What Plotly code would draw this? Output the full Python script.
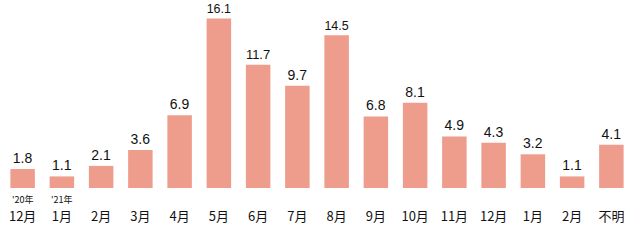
import plotly.graph_objects as go

months = ["12月", "1月", "2月", "3月", "4月", "5月", "6月", "7月", "8月", "9月",
          "10月", "11月", "12月", "1月", "2月", "不明"]
values = [1.8, 1.1, 2.1, 3.6, 6.9, 16.1, 11.7, 9.7, 14.5, 6.8, 8.1, 4.9, 4.3, 3.2, 1.1, 4.1]
year_labels = {0: "'20年", 1: "'21年"}

FONT = "Noto Sans CJK JP, Noto Sans, sans-serif"
NUM_FONT = "Liberation Sans, Arial, sans-serif"
x = list(range(len(values)))

fig = go.Figure(go.Bar(
    x=x, y=values,
    marker=dict(color="#EE9C8C", line=dict(width=0)),
    text=[f"{v:.1f}" for v in values],
    textposition="outside",
    textfont=dict(family=NUM_FONT, size=14, color="#111111"),
    cliponaxis=False,
))

for i, lab in year_labels.items():
    fig.add_annotation(x=i, y=0, xref="x", yref="y", text=lab, showarrow=False,
                       yshift=-11, font=dict(family=FONT, size=9, color="#111111"))

fig.update_layout(
    width=634, height=251,
    margin=dict(l=3, r=3, t=10, b=63),
    paper_bgcolor="white", plot_bgcolor="white",
    bargap=0.376, showlegend=False,
    font=dict(family=FONT),
)
fig.update_xaxes(tickmode="array", tickvals=x, ticktext=months, range=[-0.5, 15.5],
                 showgrid=False, zeroline=False, showline=False,
                 ticks="outside", ticklen=16, tickcolor="rgba(0,0,0,0)",
                 tickfont=dict(family=FONT, size=13, color="#111111"))
fig.update_yaxes(range=[0, 16.9], visible=False)

fig.write_html("out.html")
